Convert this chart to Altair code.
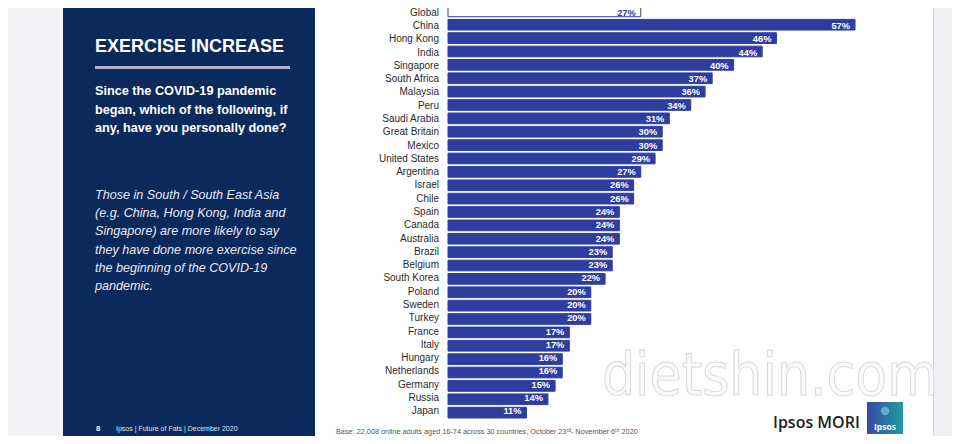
import altair as alt
import pandas as pd

# ---------------- data ----------------
countries = ["Global", "China", "Hong Kong", "India", "Singapore", "South Africa",
             "Malaysia", "Peru", "Saudi Arabia", "Great Britain", "Mexico",
             "United States", "Argentina", "Israel", "Chile", "Spain", "Canada",
             "Australia", "Brazil", "Belgium", "South Korea", "Poland", "Sweden",
             "Turkey", "France", "Italy", "Hungary", "Netherlands", "Germany",
             "Russia", "Japan"]
values = [27, 57, 46, 44, 40, 37, 36, 34, 31, 30, 30, 29, 27, 26, 26, 24, 24, 24,
          23, 23, 22, 20, 20, 20, 17, 17, 16, 16, 15, 14, 11]
value_labels = [f"{v}%" for v in values]

panel_title = "EXERCISE INCREASE"
question_lines = ["Since the COVID-19 pandemic",
                  "began, which of the following, if",
                  "any, have you personally done?"]
insight_lines = ["Those in South / South East Asia",
                 "(e.g. China, Hong Kong, India and",
                 "Singapore) are more likely to say",
                 "they have done more exercise since",
                 "the beginning of the COVID-19",
                 "pandemic."]
footer_page = "8"
footer_text = "Ipsos | Future of Fats | December 2020"
base_note = "Base: 22,008 online adults aged 16-74 across 30 countries, October 23\u02b3\u1d48- November 6\u1d57\u02b0 2020"
brand = "Ipsos MORI"
watermark = "dietshin.com"

# ---------------- styles ----------------
BAR = "#2f3e9e"
NAVY = "#0b2a5c"
FONT = "Liberation Sans"

df = pd.DataFrame({"country": countries, "value": values,
                   "label": value_labels, "zero": [0] * len(countries)})

xscale = alt.Scale(domain=[0, 57], range=[440, 847], nice=False, zero=False)
yenc = alt.Y("country:N", sort=countries, axis=None,
             scale=alt.Scale(range=[-2, 410], paddingInner=0.2, paddingOuter=0))

is_global = "datum.country == 'Global'"

bars = alt.Chart(df).mark_bar(strokeWidth=1).encode(
    x=alt.X("value:Q", scale=xscale, axis=None),
    y=yenc,
    fill=alt.condition(is_global, alt.value("white"), alt.value(BAR)),
    stroke=alt.condition(is_global, alt.value(BAR), alt.value(BAR)),
)

vals = alt.Chart(df).mark_text(align="right", baseline="middle", dx=-5,
                               fontSize=9.3, fontWeight="bold", font=FONT).encode(
    x=alt.X("value:Q", scale=xscale, axis=None),
    y=yenc,
    text="label:N",
    color=alt.condition(is_global, alt.value(BAR), alt.value("white")),
)

names = alt.Chart(df).mark_text(align="right", baseline="middle", dx=-9,
                                fontSize=10, font=FONT, color="#2b2b2b").encode(
    x=alt.X("zero:Q", scale=xscale, axis=None),
    y=yenc,
    text="country:N",
)

# ---------------- decoration ----------------
decor = pd.DataFrame([
    (0, 55, 0, 428, "#f2f2f7"),
    (55, 307, 0, 428, NAVY),
    (925, 944, 0, 428, "#efeff4"),
    (925, 926, 0, 428, "#d4d4dc"),
    (87, 282, 58, 61, "#aab2c4"),
], columns=["x", "x2", "y", "y2", "c"])

rects = alt.Chart(decor).mark_rect().encode(
    x=alt.X("x:Q", scale=None), x2="x2:Q",
    y=alt.Y("y:Q", scale=None), y2="y2:Q",
    color=alt.Color("c:N", scale=None, legend=None),
)

logo_df = pd.DataFrame([(859, 895, 394, 426)], columns=["x", "x2", "y", "y2"])
logo = alt.Chart(logo_df).mark_rect(
    fill=alt.Gradient(gradient="linear",
                      stops=[alt.GradientStop(color="#3a48a6", offset=0),
                             alt.GradientStop(color="#1f9d9e", offset=1)],
                      x1=0, x2=1, y1=0, y2=0)
).encode(x=alt.X("x:Q", scale=None), x2="x2:Q",
         y=alt.Y("y:Q", scale=None), y2="y2:Q")

head_df = pd.DataFrame([(877, 403)], columns=["x", "y"])
logo_head = alt.Chart(head_df).mark_point(
    filled=True, shape="circle", size=70, color="#5cb8c8", opacity=0.9
).encode(x=alt.X("x:Q", scale=None), y=alt.Y("y:Q", scale=None))


def txt(rows, align="left", baseline="middle", **kw):
    d = pd.DataFrame(rows, columns=["x", "y", "t"])
    return alt.Chart(d).mark_text(align=align, baseline=baseline, **kw).encode(
        x=alt.X("x:Q", scale=None), y=alt.Y("y:Q", scale=None), text="t:N")


t_title = txt([(87, 39, panel_title)], fontSize=18, fontWeight="bold",
              font=FONT, color="white")
t_question = txt([(87, 83 + i * 18.5, s) for i, s in enumerate(question_lines)],
                 fontSize=12.7, fontWeight="bold", font=FONT, color="white")
t_insight = txt([(87, 187 + i * 18.2, s) for i, s in enumerate(insight_lines)],
                fontSize=12.6, fontStyle="italic", font=FONT, color="#e6e9f2")
t_page = txt([(88, 421, footer_page)], fontSize=7.5, fontWeight="bold",
             font=FONT, color="white")
t_footer = txt([(108, 421, footer_text)], fontSize=7, font=FONT, color="#dfe3ee")
t_base = txt([(328, 424, base_note)], fontSize=7.3, font=FONT, color="#555555")
t_brand = txt([(765, 415, brand)], fontSize=16, fontWeight=600,
              font="Open Sans", color="#1e1e1e")
t_logo = txt([(877, 419, "Ipsos")], align="center", fontSize=8.5,
             fontWeight="bold", font="Open Sans", color="white")
t_mark = txt([(762, 387, watermark)], align="center", baseline="alphabetic",
             fontSize=58, font="Liberation Sans Narrow, DejaVu Sans Condensed, sans-serif",
             fill="#fbfbfb", stroke="#d6d6d6", strokeWidth=0.9)

chart = alt.layer(
    rects, t_mark, bars, vals, names, logo, logo_head,
    t_title, t_question, t_insight, t_page, t_footer, t_base, t_brand, t_logo,
).resolve_scale(
    x="independent", y="independent", color="independent"
).properties(
    width=944, height=428, padding=0, autosize="none", background="white"
).configure_view(stroke=None)

chart.save("out.html", embed_options={"renderer": "svg", "actions": False})
